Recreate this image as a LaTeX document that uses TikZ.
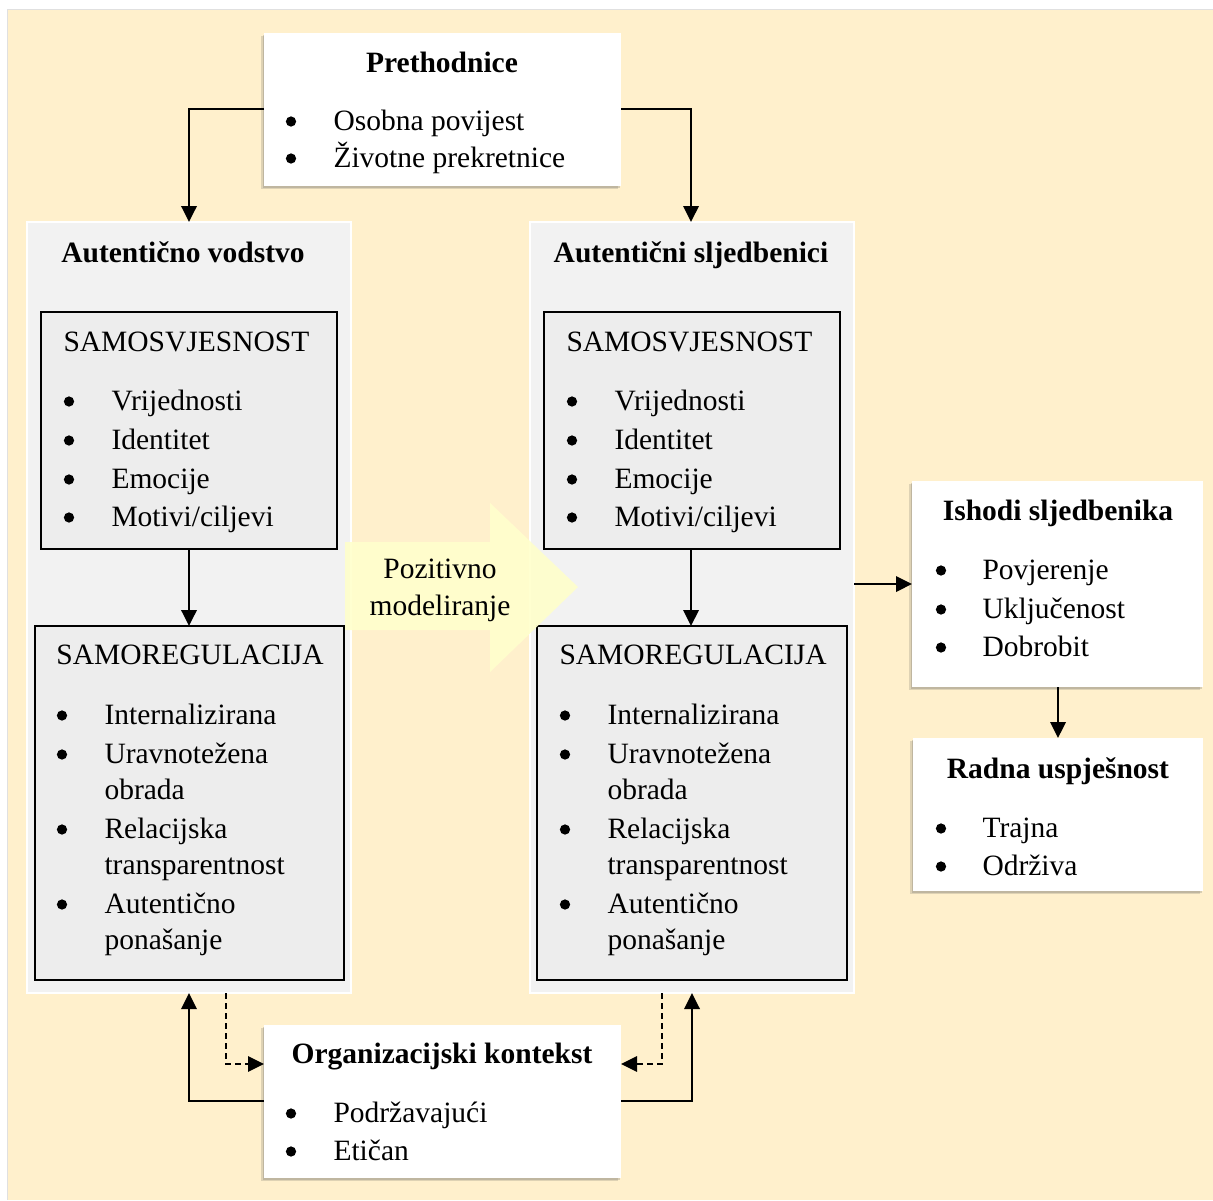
\documentclass[tikz,border=0pt]{standalone}
\usepackage{fontspec}
\setmainfont{Liberation Serif}
\usetikzlibrary{arrows.meta,shadows,calc}
\definecolor{cream}{HTML}{FFF0CC}
\definecolor{contgray}{HTML}{F2F2F2}
\definecolor{innergray}{HTML}{EDEDED}
\definecolor{arrowyellow}{HTML}{FFFFCC}
\tikzset{
  px/.style n args={2}{minimum width=#1*0.4pt, minimum height=#2*0.4pt, inner sep=0pt, outer sep=0pt, anchor=north west},
  whitebox/.style={fill=white, draw=none,
     drop shadow={shadow xshift=-1.1pt, shadow yshift=-1.3pt, opacity=0.18, fill=black!70},
     drop shadow={shadow xshift=-0.6pt, shadow yshift=-0.8pt, opacity=0.25, fill=black!60}},
  container/.style={fill=contgray, draw=white, line width=0.8pt},
  innerbox/.style={fill=innergray, draw=black, line width=0.8pt},
  txt/.style={anchor=base west, inner sep=0pt, font=\fontsize{11.8pt}{14pt}\selectfont},
  ttl/.style={anchor=base, inner sep=0pt, font=\fontsize{11.8pt}{14pt}\selectfont\bfseries},
  bul/.style={anchor=base, inner sep=0pt, font=\fontsize{11.8pt}{14pt}\selectfont},
  dot/.style={circle, fill=black, inner sep=0pt, minimum size=4.1pt, yshift=3.4pt, anchor=center},
  conn/.style={line width=0.75pt, -{Triangle[length=6.4pt,width=6.2pt]}},
  dconn/.style={line width=0.6pt, dash pattern=on 2.4pt off 1.6pt, -{Triangle[length=6.4pt,width=6.2pt]}}
}
\begin{document}
\begin{tikzpicture}[x=0.4pt,y=-0.4pt]
\useasboundingbox (0,0) rectangle (1213,1200);
\fill[white] (0,0) rectangle (1213,1200);
\fill[cream] (8,10) rectangle (1213,1200);
\draw[black!12, line width=0.5pt] (7.5,1200) -- (7.5,9.5) -- (1213,9.5);

% containers
\node[container, px={324}{771}] (lc) at (27,222) {};
\node[container, px={324}{771}] (rc) at (530,222) {};
\node[ttl] (lct) at (183,262) {Autentično vodstvo};
\node[ttl] (rct) at (691,262) {Autentični sljedbenici};

% inner boxes
\node[innerbox, px={296}{237}] (lsv) at (41,312) {};
\node[innerbox, px={309}{354}] (lsr) at (35,626) {};
\node[innerbox, px={296}{237}] (rsv) at (544,312) {};
\node[innerbox, px={310}{354}] (rsr) at (537,626) {};

% white boxes
\node[whitebox, px={357}{153}] (pre) at (264,33) {};
\node[whitebox, px={357}{153}] (org) at (264,1025) {};
\node[whitebox, px={291}{206}] (ish) at (912,481) {};
\node[whitebox, px={290}{153}] (rad) at (913,738) {};

% big arrow
\fill[arrowyellow, opacity=0.92] (345,542) -- (490,542) -- (490,503) -- (578,587) -- (490,672) -- (490,630) -- (345,630) -- cycle;
\node[bul] (pm1) at (440,578) {Pozitivno};
\node[bul] (pm2) at (440,615) {modeliranje};

% Prethodnice text
\node[ttl] (pret) at (442,72) {Prethodnice};
\node[dot] at (291,130) {}; \node[txt] (pre1) at (333,130) {Osobna povijest};
\node[dot] at (291,167) {}; \node[txt] (pre2) at (333,167) {Životne prekretnice};

% Organizacijski kontekst text
\node[ttl] (orgt) at (442,1063) {Organizacijski kontekst};
\node[dot] at (291,1122) {}; \node[txt] at (333,1122) {Podržavajući};
\node[dot] at (291,1160) {}; \node[txt] at (333,1160) {Etičan};

% Ishodi
\node[ttl] (isht) at (1058,520) {Ishodi sljedbenika};
\node[dot] at (941,579) {}; \node[txt] at (982,579) {Povjerenje};
\node[dot] at (941,618) {}; \node[txt] at (982,618) {Uključenost};
\node[dot] at (941,656) {}; \node[txt] at (982,656) {Dobrobit};

% Radna
\node[ttl] (radt) at (1058,778) {Radna uspješnost};
\node[dot] at (941,837) {}; \node[txt] at (982,837) {Trajna};
\node[dot] at (941,875) {}; \node[txt] at (982,875) {Održiva};

% SAMOSVJESNOST / SAMOREGULACIJA left and right
\foreach \dx in {0,503}{
  \node[txt] at (63+\dx,351) {SAMOSVJESNOST};
  \node[dot] at (69+\dx,410) {}; \node[txt] at (111+\dx,410) {Vrijednosti};
  \node[dot] at (69+\dx,449) {}; \node[txt] at (111+\dx,449) {Identitet};
  \node[dot] at (69+\dx,488) {}; \node[txt] at (111+\dx,488) {Emocije};
  \node[dot] at (69+\dx,526) {}; \node[txt] at (111+\dx,526) {Motivi/ciljevi};
  \node[txt] at (56+\dx,664) {SAMOREGULACIJA};
  \node[dot] at (62+\dx,724) {}; \node[txt] at (104+\dx,724) {Internalizirana};
  \node[dot] at (62+\dx,763) {}; \node[txt] at (104+\dx,763) {Uravnotežena};
  \node[txt] at (104+\dx,799) {obrada};
  \node[dot] at (62+\dx,838) {}; \node[txt] at (104+\dx,838) {Relacijska};
  \node[txt] at (104+\dx,874) {transparentnost};
  \node[dot] at (62+\dx,913) {}; \node[txt] at (104+\dx,913) {Autentično};
  \node[txt] at (104+\dx,949) {ponašanje};
}

% connectors
\draw[conn] (pre.west |- 0,109) -- (189,109) -- (lc.north -| 189,0);
\draw[conn] (pre.east |- 0,109) -- (691,109) -- (rc.north -| 691,0);
\draw[conn] (lsv.south -| 189,0) -- (lsr.north -| 189,0);
\draw[conn] (rsv.south -| 691,0) -- (rsr.north -| 691,0);
\draw[conn] (rc.east |- 0,584) -- (ish.west |- 0,584);
\draw[conn] (ish.south -| 1058,0) -- (rad.north -| 1058,0);
\draw[conn] (org.west |- 0,1101) -- (189,1101) -- (lc.south -| 189,0);
\draw[conn] (org.east |- 0,1101) -- (692,1101) -- (rc.south -| 692,0);
\draw[dconn] (lc.south -| 226,0) -- (226,1064) -- (org.west |- 0,1064);
\draw[dconn] (rc.south -| 662,0) -- (662,1064) -- (org.east |- 0,1064);
\end{tikzpicture}
\end{document}
